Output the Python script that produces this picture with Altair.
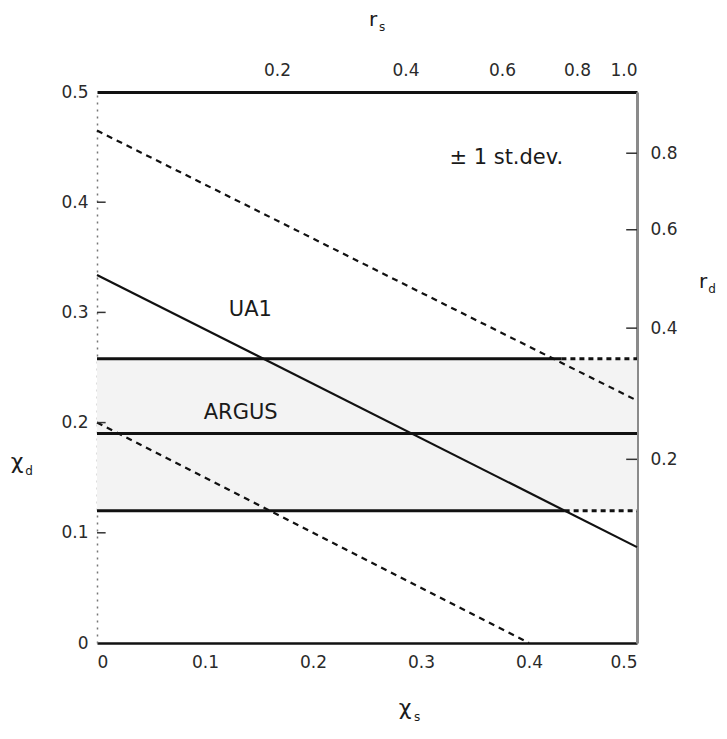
import altair as alt
import pandas as pd

# ---- data ----
x_ticks = [0.0, 0.1, 0.2, 0.3, 0.4, 0.5]
y_ticks = [0.0, 0.1, 0.2, 0.3, 0.4, 0.5]
r_s_ticks = [0.2, 0.4, 0.6, 0.8, 1.0]
r_d_ticks = [0.2, 0.4, 0.6, 0.8]

# UA1 constraint lines (chi_d vs chi_s)
ua1_central_x = [0.0, 0.5]
ua1_central_y = [0.334, 0.087]
ua1_upper_x = [0.0, 0.5]
ua1_upper_y = [0.465, 0.22]
ua1_lower_x = [0.0, 0.4]
ua1_lower_y = [0.2, 0.0]

# ARGUS horizontal lines (lower, central, upper) and where the solid part ends
argus_levels = [0.12, 0.19, 0.258]
argus_solid_end = [0.433, 0.5, 0.43]

labels_text = ["\u00b1 1 st.dev.", "UA1", "ARGUS"]
labels_x = [0.379, 0.142, 0.133]
labels_y = [0.44, 0.302, 0.209]

FONT = "DejaVu Sans"
INK = "#1a1a1a"

# ---- helper tables ----
chi_s_top = [r / (1.0 + r) for r in r_s_ticks]
chi_d_right = [r / (1.0 + r) for r in r_d_ticks]

xs = alt.Scale(domain=[0, 0.5], nice=False, zero=False)
ys = alt.Scale(domain=[0, 0.5], nice=False, zero=False)

band_df = pd.DataFrame({"x": [0.0], "x2": [0.5], "y": [argus_levels[0]], "y2": [argus_levels[2]]})

diag_solid = pd.DataFrame({"x": [ua1_central_x[0]], "x2": [ua1_central_x[1]],
                           "y": [ua1_central_y[0]], "y2": [ua1_central_y[1]]})
diag_dash = pd.DataFrame({"x": [ua1_upper_x[0], ua1_lower_x[0]], "x2": [ua1_upper_x[1], ua1_lower_x[1]],
                          "y": [ua1_upper_y[0], ua1_lower_y[0]], "y2": [ua1_upper_y[1], ua1_lower_y[1]]})

h_solid = pd.DataFrame({"x": [0.0] * 3, "x2": argus_solid_end, "y": argus_levels, "y2": argus_levels})
h_dash_rows = [(e, 0.5, lv) for e, lv in zip(argus_solid_end, argus_levels) if e < 0.5]
h_dash = pd.DataFrame({"x": [r[0] for r in h_dash_rows], "x2": [r[1] for r in h_dash_rows],
                       "y": [r[2] for r in h_dash_rows], "y2": [r[2] for r in h_dash_rows]})

left_ticks = pd.DataFrame({"x": [0.0] * 4, "x2": [0.008] * 4, "y": y_ticks[1:5]})
right_ticks = pd.DataFrame({"x": [0.49] * 4, "x2": [0.5] * 4, "y": chi_d_right})

lab_df = pd.DataFrame({"t": labels_text, "x": labels_x, "y": labels_y})
axis_df = pd.DataFrame({"x": [0.0, 0.5], "y": [0.0, 0.5]})

lab_expr = "datum.value == 0 ? '0' : format(datum.value, '.1f')"

common_axis = dict(labelFont=FONT, labelFontSize=17, labelColor="#2a2a2a", ticks=False,
                   grid=False, title=None)

# base layer with bottom and left axes
band = alt.Chart(band_df).mark_rect(fill="#f3f3f3").encode(
    x=alt.X("x:Q", scale=xs, axis=alt.Axis(orient="bottom", values=x_ticks, labelExpr=lab_expr,
                                           domainColor="#111", domainWidth=2.5, labelPadding=11,
                                           **common_axis)),
    x2="x2",
    y=alt.Y("y:Q", scale=ys, axis=alt.Axis(orient="left", values=y_ticks, labelExpr=lab_expr,
                                           domainColor="#777", domainWidth=1.5, domainDash=[2, 5],
                                           labelPadding=9, **common_axis)),
    y2="y2",
)

# top and right axes (r_s and r_d)
axes2 = alt.Chart(axis_df).mark_point(opacity=0).encode(
    x=alt.X("x:Q", scale=xs, axis=alt.Axis(orient="top", values=chi_s_top,
                                           labelExpr="format(datum.value/(1-datum.value), '.1f')",
                                           domainColor="#111", domainWidth=3, labelPadding=13,
                                           **common_axis)),
    y=alt.Y("y:Q", scale=ys, axis=alt.Axis(orient="right", values=chi_d_right,
                                           labelExpr="format(datum.value/(1-datum.value), '.1f')",
                                           domainColor="#8a8a8a", domainWidth=3, labelPadding=13,
                                           **common_axis)),
)


def seg(df, **kw):
    return alt.Chart(df).mark_rule(**kw).encode(
        x=alt.X("x:Q", scale=xs, axis=None), x2="x2",
        y=alt.Y("y:Q", scale=ys, axis=None), y2="y2",
    )


l_hsolid = seg(h_solid, color="#111", strokeWidth=3)
l_hdash = seg(h_dash, color="#111", strokeWidth=3, strokeDash=[5, 4])
l_dsolid = seg(diag_solid, color="#111", strokeWidth=2.2)
l_ddash = seg(diag_dash, color="#111", strokeWidth=2.2, strokeDash=[6, 5])

l_lt = alt.Chart(left_ticks).mark_rule(color="#333", strokeWidth=1.5).encode(
    x=alt.X("x:Q", scale=xs, axis=None), x2="x2", y=alt.Y("y:Q", scale=ys, axis=None))
l_rt = alt.Chart(right_ticks).mark_rule(color="#333", strokeWidth=1.5).encode(
    x=alt.X("x:Q", scale=xs, axis=None), x2="x2", y=alt.Y("y:Q", scale=ys, axis=None))

l_labels = alt.Chart(lab_df).mark_text(font=FONT, fontSize=21, color=INK).encode(
    x=alt.X("x:Q", scale=xs, axis=None), y=alt.Y("y:Q", scale=ys, axis=None), text="t:N")

# axis titles with subscripts
one = pd.DataFrame({"k": [0]})


def tx(t, px, py, size):
    return alt.Chart(one).mark_text(font=FONT, fontSize=size, color=INK).encode(
        x=alt.value(px), y=alt.value(py), text=alt.value(t))


titles = [
    tx("\u03c7", 308, 616, 22), tx("s", 320, 625, 12),
    tx("\u03c7", -80, 370, 22), tx("d", -68, 379, 12),
    tx("r", 276, -72, 20), tx("s", 285, -65, 12),
    tx("r", 606, 190, 20), tx("d", 615, 197, 12),
]

chart = alt.layer(
    band, axes2, l_hsolid, l_hdash, l_dsolid, l_ddash, l_lt, l_rt, l_labels, *titles
).resolve_axis(x="independent", y="independent").properties(
    width=540, height=551,
    autosize=alt.AutoSizeParams(type="none"),
    padding={"left": 89, "top": 84, "right": 80, "bottom": 80},
).configure_view(stroke=None)

chart.save("out.html", embed_options={"renderer": "svg", "actions": False})
